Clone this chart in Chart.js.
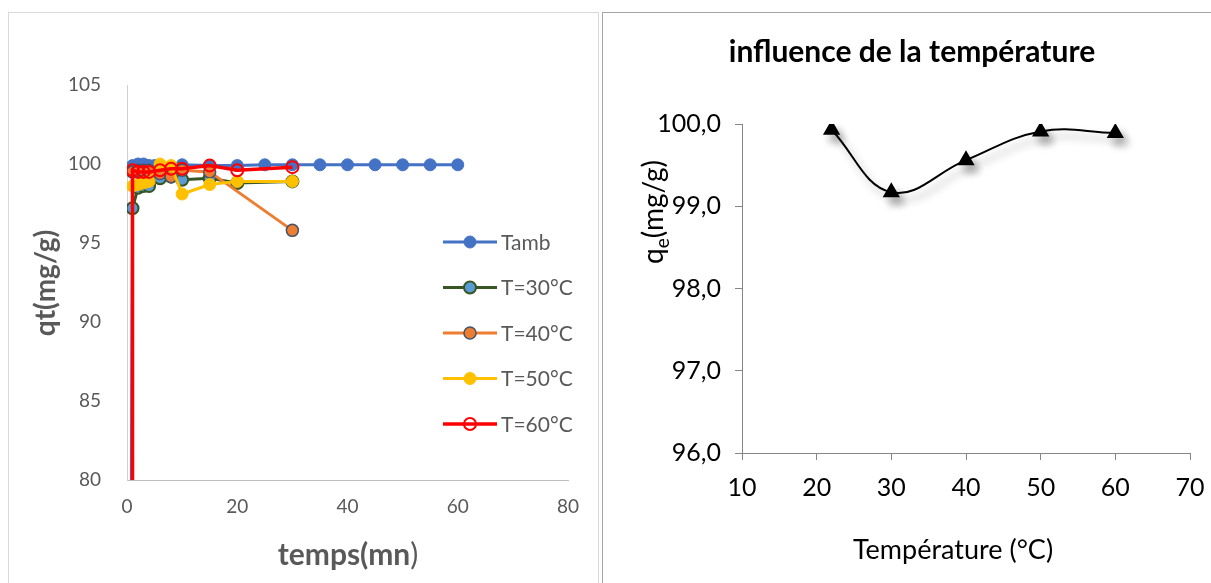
<!DOCTYPE html>
<html><head><meta charset="utf-8">
<script src="https://cdn.jsdelivr.net/npm/chart.js@4.4.1/dist/chart.umd.min.js"></script>
<style>
html,body{margin:0;padding:0;background:#fff;overflow:hidden;width:1211px;height:583px}
.box{position:absolute;box-sizing:border-box;background:#fff}
#boxL{left:8px;top:12px;width:591px;height:620px;border:1px solid #d9d9d9}
#boxR{left:602px;top:12px;width:660px;height:620px;border:1px solid #a6a6a6}
canvas{position:absolute}
#cL{left:8px;top:12px;width:590px;height:571px}
#cR{left:602px;top:12px;width:620px;height:571px}
</style></head><body>
<div class="box" id="boxL"></div><div class="box" id="boxR"></div>
<canvas id="cL" width="590" height="571"></canvas>
<canvas id="cR" width="620" height="571"></canvas>
<script>
// ---------- data: left chart (kinetics) ----------
const seriesLabels = ['Tamb', 'T=30°C', 'T=40°C', 'T=50°C', 'T=60°C'];
const tambX = [0, 1, 2, 3, 4, 5, 10, 15, 20, 25, 30, 35, 40, 45, 50, 55, 60];
const tambY = [0, 99.9, 100.0, 100.0, 99.9, 99.9, 99.95, 99.9, 99.9, 99.95, 99.95, 99.95, 99.95, 99.95, 99.95, 99.95, 99.95];
const t30X = [1, 2, 3, 4, 6, 8, 10, 15, 20, 30];
const t30Y = [97.2, 98.5, 98.6, 98.6, 99.1, 99.2, 99.0, 99.1, 98.8, 98.9];
const t40X = [1, 2, 3, 4, 6, 8, 10, 15, 30];
const t40Y = [99.5, 99.6, 99.6, 99.6, 99.4, 99.2, 99.6, 99.5, 95.8];
const t50X = [1, 2, 3, 4, 6, 8, 10, 15, 20, 30];
const t50Y = [98.6, 98.7, 98.8, 98.9, 100.0, 99.9, 98.1, 98.7, 98.9, 98.9];
const t60X = [1, 1, 2, 3, 4, 6, 8, 10, 15, 20, 30];
const t60Y = [0, 99.6, 99.5, 99.5, 99.5, 99.6, 99.7, 99.7, 99.9, 99.6, 99.8];
const timeTicks = [0, 20, 40, 60, 80];
const qtTicks = [80, 85, 90, 95, 100, 105];

// ---------- data: right chart (temperature influence) ----------
const tempX = [22, 30, 40, 50, 60];
const qeY = [99.93, 99.17, 99.56, 99.91, 99.89];
const tempTicks = [10, 20, 30, 40, 50, 60, 70];
const qeTicks = [96, 97, 98, 99, 100];

const FONT = 'Lato, "Open Sans", sans-serif';
const pts = (xs, ys) => xs.map((x, i) => ({x: x, y: ys[i]}));

// custom text plugin
const textsPlugin = {
  id: 'texts',
  afterDraw(chart, args, opts) {
    const ctx = chart.ctx;
    (opts.items || []).forEach(it => {
      ctx.save();
      ctx.translate(it.x, it.y);
      ctx.rotate(it.rot || 0);
      ctx.fillStyle = it.color;
      ctx.textBaseline = 'alphabetic';
      let total = 0;
      it.parts.forEach(p => { ctx.font = p.font; total += ctx.measureText(p.text).width; });
      let cx = -total / 2;
      it.parts.forEach(p => {
        ctx.font = p.font;
        ctx.fillText(p.text, cx, it.base + (p.dy || 0));
        cx += ctx.measureText(p.text).width;
      });
      ctx.restore();
    });
  }
};

// legend with line + marker
const lineLegend = {
  id: 'lineLegend',
  afterDraw(chart, args, o) {
    const ctx = chart.ctx;
    chart.data.datasets.forEach((ds, i) => {
      const y = o.y0 + i * o.dy;
      const cx = o.x0 + o.len / 2;
      ctx.save();
      ctx.strokeStyle = ds.borderColor;
      ctx.lineWidth = ds.borderWidth;
      ctx.beginPath();
      ctx.moveTo(o.x0, y); ctx.lineTo(o.x0 + o.len, y);
      ctx.stroke();
      ctx.fillStyle = ds.pointBackgroundColor;
      ctx.strokeStyle = ds.pointBorderColor;
      ctx.lineWidth = ds.pointBorderWidth;
      ctx.beginPath();
      ctx.arc(cx, y, ds.pointRadius, 0, Math.PI * 2);
      ctx.fill();
      ctx.stroke();
      ctx.fillStyle = o.color;
      ctx.font = o.font;
      ctx.textBaseline = 'middle';
      ctx.fillText(ds.label, o.x0 + o.len + o.gap, y + 1);
      ctx.restore();
    });
  }
};

const shadowPlugin = {
  id: 'shadow',
  beforeDatasetsDraw(chart) {
    const ctx = chart.ctx;
    ctx.save();
    ctx.shadowColor = 'rgba(0,0,0,0.33)';
    ctx.shadowBlur = 9;
    ctx.shadowOffsetX = 5;
    ctx.shadowOffsetY = 7;
  },
  afterDatasetsDraw(chart) { chart.ctx.restore(); }
};

const mk = (label, xs, ys, line, fill, border, bw, lw, ord) => ({
  label: label, data: pts(xs, ys), borderColor: line, borderWidth: lw,
  pointRadius: 6, pointBackgroundColor: fill, pointBorderColor: border, pointBorderWidth: bw,
  pointHoverRadius: 6, tension: 0, order: ord
});

const GRAY = '#595959';
new Chart(document.getElementById('cL'), {
  type: 'line',
  data: {
    datasets: [
      mk(seriesLabels[0], tambX, tambY, '#4472C4', '#4472C4', '#4472C4', 1, 3, 5),
      mk(seriesLabels[1], t30X, t30Y, '#375623', '#5B9BD5', '#375623', 2, 3, 4),
      mk(seriesLabels[2], t40X, t40Y, '#ED7D31', '#ED7D31', '#44546A', 1.5, 3, 3),
      mk(seriesLabels[3], t50X, t50Y, '#FFC000', '#FFC000', '#FFC000', 1, 3, 2),
      mk(seriesLabels[4], t60X, t60Y, '#FF0000', 'rgba(255,255,255,0)', '#FF0000', 2, 3.5, 1)
    ]
  },
  options: {
    responsive: false, animation: false,
    layout: {padding: {top: 73, right: 30, left: 0, bottom: 0}},
    plugins: {
      legend: {display: false}, tooltip: {enabled: false},
      lineLegend: {x0: 435, len: 54, gap: 4, y0: 230, dy: 45.5, color: GRAY, font: '21px ' + FONT},
      texts: {items: [
        {x: 340, y: 543, base: 10, color: GRAY, parts: [
          {text: 'temps(mn', font: 'bold 30px ' + FONT},
          {text: ')', font: '30px ' + FONT}
        ]},
        {x: 37, y: 271, base: 10, rot: -Math.PI / 2, color: GRAY, parts: [
          {text: 'qt(mg/g)', font: 'bold 28px ' + FONT}
        ]}
      ]}
    },
    scales: {
      x: {
        type: 'linear', min: 0, max: 80,
        afterBuildTicks: s => { s.ticks = timeTicks.map(v => ({value: v})); },
        ticks: {color: GRAY, font: {family: FONT, size: 19}, padding: 15},
        grid: {display: false, drawTicks: false},
        border: {color: '#bfbfbf', width: 1},
        afterFit: s => { s.height = 103; }
      },
      y: {
        type: 'linear', min: 80, max: 105,
        afterBuildTicks: s => { s.ticks = qtTicks.map(v => ({value: v})); },
        ticks: {color: GRAY, font: {family: FONT, size: 19}, padding: 26},
        grid: {display: false, drawTicks: false},
        border: {color: '#d0d0d0', width: 1},
        afterFit: s => { s.width = 119; }
      }
    }
  },
  plugins: [lineLegend, textsPlugin]
});

new Chart(document.getElementById('cR'), {
  type: 'line',
  data: {
    datasets: [{
      label: 'qe', data: pts(tempX, qeY), borderColor: '#000', borderWidth: 2,
      pointStyle: 'triangle', pointRadius: 8, pointHoverRadius: 8,
      pointBackgroundColor: '#000', pointBorderColor: '#000', tension: 0.4
    }]
  },
  options: {
    responsive: false, animation: false,
    layout: {padding: {top: 112, right: 32, left: 0, bottom: 0}},
    plugins: {
      legend: {display: false}, tooltip: {enabled: false},
      texts: {items: [
        {x: 310, y: 40, base: 10, color: '#000', parts: [{text: 'influence de la température', font: 'bold 30px ' + FONT}]},
        {x: 351, y: 538, base: 9, color: '#000', parts: [{text: 'Température (°C)', font: '27px ' + FONT}]},
        {x: 52, y: 200, base: 9, rot: -Math.PI / 2, color: '#000', parts: [
          {text: 'q', font: '28px ' + FONT},
          {text: 'e', font: '19px ' + FONT, dy: 6},
          {text: '(mg/g)', font: '28px ' + FONT}
        ]}
      ]}
    },
    scales: {
      x: {
        type: 'linear', min: 10, max: 70,
        afterBuildTicks: s => { s.ticks = tempTicks.map(v => ({value: v})); },
        ticks: {color: '#000', font: {family: FONT, size: 25}, padding: 13},
        grid: {display: true, drawOnChartArea: false, drawTicks: true, tickLength: 7, color: '#868686'},
        border: {color: '#868686', width: 1},
        afterFit: s => { s.height = 130; }
      },
      y: {
        type: 'linear', min: 96, max: 100,
        afterBuildTicks: s => { s.ticks = qeTicks.map(v => ({value: v})); },
        ticks: {color: '#000', font: {family: FONT, size: 25}, padding: 14,
          callback: v => v.toFixed(1).replace('.', ',')},
        grid: {display: true, drawOnChartArea: false, drawTicks: true, tickLength: 7, color: '#868686'},
        border: {color: '#868686', width: 1},
        afterFit: s => { s.width = 140; }
      }
    }
  },
  plugins: [shadowPlugin, textsPlugin]
});
</script>
</body></html>
